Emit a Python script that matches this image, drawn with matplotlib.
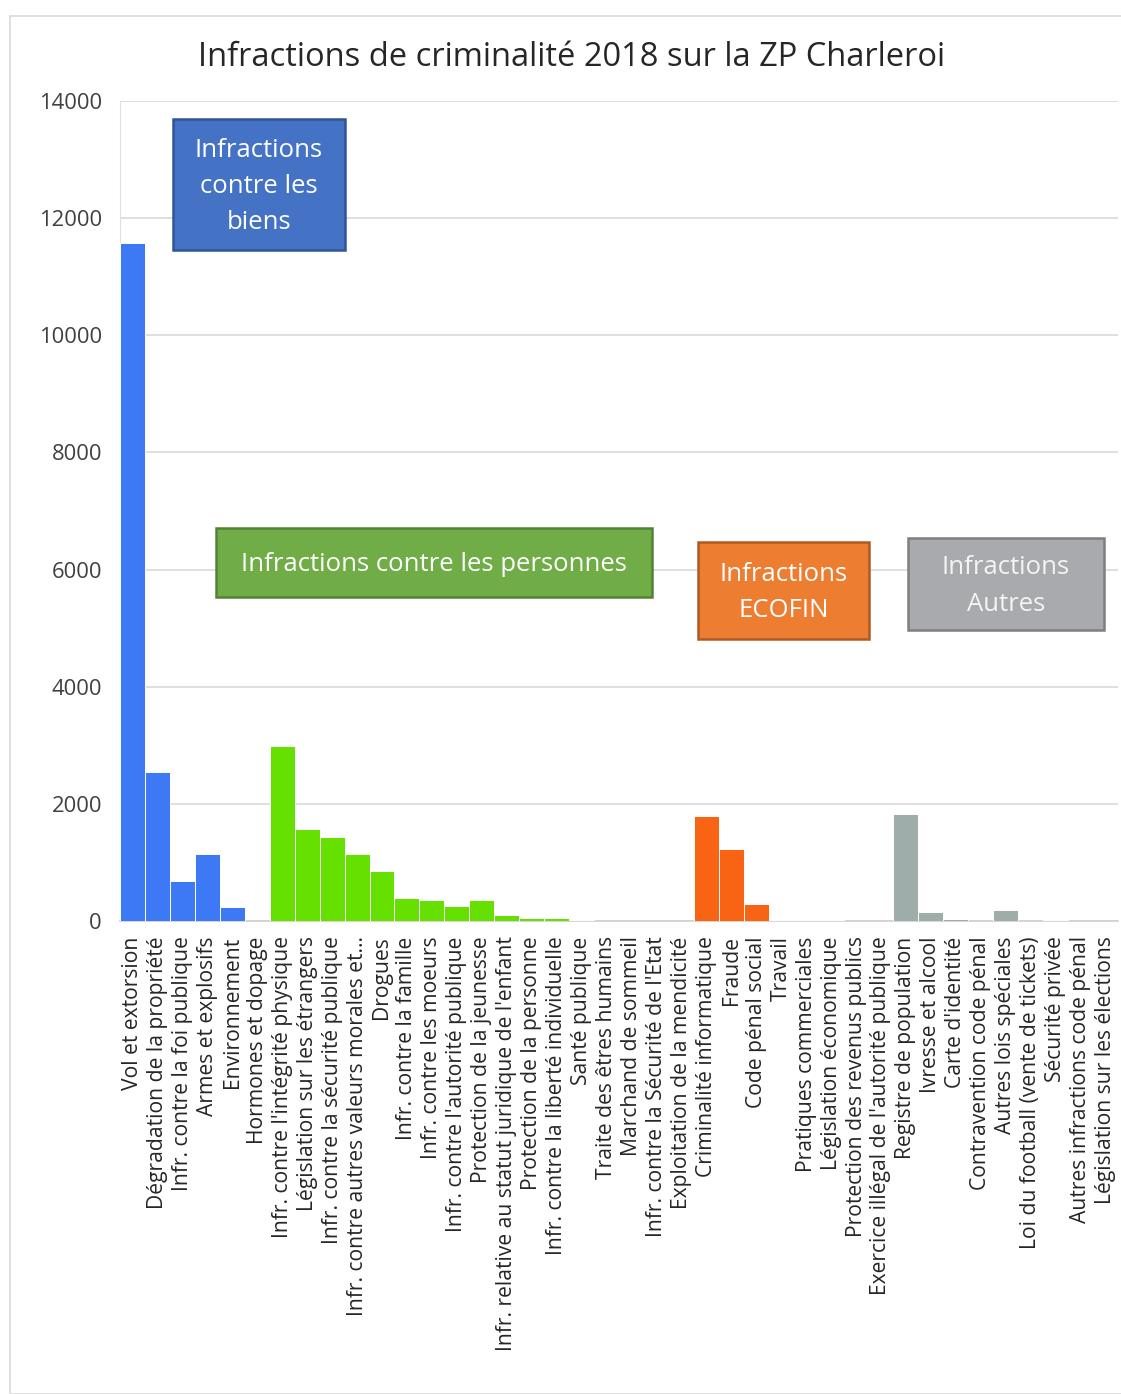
import matplotlib
matplotlib.use("Agg")
import matplotlib.pyplot as plt
from matplotlib.patches import Rectangle

plt.rcParams['font.family'] = ['Open Sans', 'DejaVu Sans']

categories = [
    "Vol et extorsion", "Dégradation de la propriété", "Infr. contre la foi publique",
    "Armes et explosifs", "Environnement", "Hormones et dopage",
    "Infr. contre l'intégrité physique", "Législation sur les étrangers",
    "Infr. contre la sécurité publique", "Infr. contre autres valeurs morales et...",
    "Drogues", "Infr. contre la famille", "Infr. contre les moeurs",
    "Infr. contre l'autorité publique", "Protection de la jeunesse",
    "Infr. relative au statut juridique de l'enfant", "Protection de la personne",
    "Infr. contre la liberté individuelle", "Santé publique", "Traite des êtres humains",
    "Marchand de sommeil", "Infr. contre la Sécurité de l'Etat",
    "Exploitation de la mendicité", "Criminalité informatique", "Fraude",
    "Code pénal social", "Travail", "Pratiques commerciales", "Législation économique",
    "Protection des revenus publics", "Exercice illégal de l'autorité publique",
    "Registre de population", "Ivresse et alcool", "Carte d'identité",
    "Contravention code pénal", "Autres lois spéciales",
    "Loi du football (vente de tickets)", "Sécurité privée",
    "Autres infractions code pénal", "Législation sur les élections",
]

biens_values = [11580, 2550, 690, 1150, 245, 5]
personnes_values = [2980, 1570, 1440, 1150, 855, 395, 365, 260, 360, 100, 58, 48, 10, 4, 3, 2, 2]
ecofin_values = [1795, 1225, 290, 25, 10, 20, 5, 3]
autres_values = [1830, 150, 30, 5, 180, 5, 12, 4, 2]

group_colors = ["#3d78f5", "#66e000", "#f96414", "#9eacaa"]
group_values = [biens_values, personnes_values, ecofin_values, autres_values]

yticks = [0, 2000, 4000, 6000, 8000, 10000, 12000, 14000]

W, H = 1121, 1394
fig = plt.figure(figsize=(W / 100, H / 100), dpi=100)

def fx(px):
    return px / W

def fy(py):
    return 1 - py / H

ax = fig.add_axes([fx(120), fy(921), fx(1118) - fx(120), fy(101) - fy(921)])

start = 0
for vals, col in zip(group_values, group_colors):
    xs = list(range(start, start + len(vals)))
    ax.bar(xs, vals, width=1.0, color=col, edgecolor="white", linewidth=0.7, zorder=3)
    start += len(vals)

ax.set_xlim(-0.5, len(categories) - 0.5)
ax.set_ylim(0, 14000)
ax.set_yticks(yticks)
ax.set_yticklabels([str(t) for t in yticks], fontsize=15.8, color="#404040")
ax.set_xticks(range(len(categories)))
ax.set_xticklabels(categories, rotation=90, fontsize=15.2, color="#262626")
ax.tick_params(axis="both", length=0)
ax.tick_params(axis="y", pad=13)
ax.tick_params(axis="x", pad=11)
ax.yaxis.grid(True, color="#d9d9d9", linewidth=1.2, zorder=0)
ax.set_axisbelow(True)
for s in ["top", "right"]:
    ax.spines[s].set_visible(False)
ax.spines["left"].set_color("#e0e0e0")
ax.spines["bottom"].set_color("#d0d0d0")
ax.spines["bottom"].set_linewidth(1.2)

# outer border
fig.patches.append(Rectangle((fx(10), 0), 1.0, fy(16), transform=fig.transFigure,
                             fill=False, edgecolor="#d9d9d9", linewidth=1.2))

fig.text(fx(572), fy(57), "Infractions de criminalité 2018 sur la ZP Charleroi",
         ha="center", va="center", fontsize=23.5, color="#262626")

boxes = [
    (173, 119, 345, 250, "#4472c4", "#2f5597", "Infractions\ncontre les\nbiens", "white"),
    (216, 528, 652, 597, "#70ad47", "#548235", "Infractions contre les personnes", "white"),
    (698, 542, 869, 639, "#ed7d31", "#ae5a21", "Infractions\nECOFIN", "white"),
    (908, 538, 1104, 630, "#a9aaad", "#7f7f7f", "Infractions\nAutres", "#f4f4f4"),
]
for x0, y0, x1, y1, fc, ec, txt, tc in boxes:
    fig.patches.append(Rectangle((fx(x0), fy(y1)), fx(x1) - fx(x0), fy(y0) - fy(y1),
                                 transform=fig.transFigure, facecolor=fc, edgecolor=ec,
                                 linewidth=1.8, zorder=5))
    fig.text(fx((x0 + x1) / 2), fy((y0 + y1) / 2 + 2), txt, ha="center", va="center",
             fontsize=18.5, color=tc, linespacing=1.6, zorder=6)

fig.savefig("out.png", dpi=100)
